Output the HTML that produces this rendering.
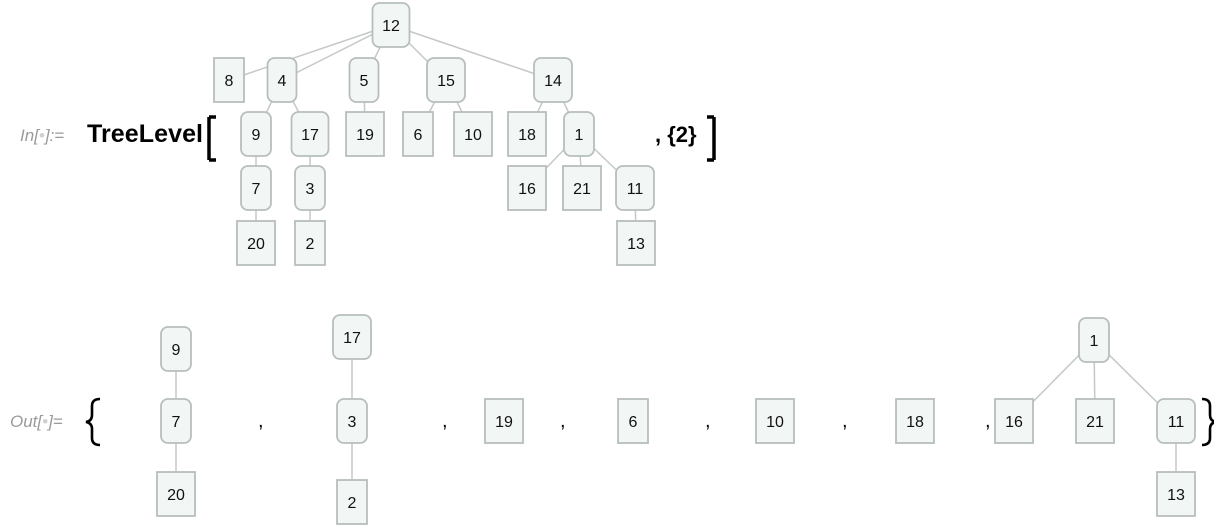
<!DOCTYPE html>
<html><head><meta charset="utf-8"><style>
body{margin:0;background:#fff;width:1214px;height:532px;overflow:hidden}
svg{display:block}
</style></head><body>
<svg id="s" width="1214" height="532" xmlns="http://www.w3.org/2000/svg" font-family="'Liberation Sans', 'DejaVu Sans', sans-serif">
<text x="20" y="141" font-size="17" font-style="italic" fill="#9a9a9a">In[<tspan fill="#d0d0d0">•</tspan>]:=</text>
<text x="87" y="142" font-size="25" font-weight="bold" fill="#000" textLength="116">TreeLevel</text>
<path d="M209 117 V160 M209 117 H216 M209 160 H216" stroke="#000" stroke-width="3.5" fill="none"/>
<text x="655" y="142" font-size="22" font-weight="bold" fill="#000">, {2}</text>
<path d="M714 117 V160 M714 117 H707 M714 160 H707" stroke="#000" stroke-width="3.5" fill="none"/>
<text x="10" y="427" font-size="17" font-style="italic" fill="#9a9a9a">Out[<tspan fill="#d0d0d0">•</tspan>]=</text>
<path d="M100 399 Q92 399 92 406 V415 Q92 421 86 422 Q92 423 92 429 V438 Q92 445 100 445" stroke="#000" stroke-width="2.6" fill="none"/>
<path d="M1202 399 Q1210 399 1210 406 V415 Q1210 421 1216 422 Q1210 423 1210 429 V438 Q1210 445 1202 445" stroke="#000" stroke-width="2.6" fill="none"/>
<g id="edges"></g><g id="nodes"></g><g id="commas"></g>
</svg>
<script>
const nodeLabels=["12","8","4","5","15","14","9","17","19","6","10","18","1","7","3","16","21","11","20","2","13",
"9","7","20","17","3","2","19","6","10","18","1","16","21","11","13"];
const nodeX=[391,229,282,364,446,553,256,310,365,418,473,527,579,256,310,527,582,635,256,310,636,
176,176,176,352,352,352,504,633,775,915,1094,1014,1095,1176,1176];
const nodeY=[25,80,80,80,80,80,134,134,134,134,134,134,134,188,188,188,188,188,243,243,243,
349,421,494,337,421,502,421,421,421,421,340,421,421,421,494];
const nodeW=[37,30,29,29,38,38,30,37,38,30,38,38,30,30,30,38,38,38,38,30,38,
30,30,38,38,30,30,38,30,38,38,30,38,38,38,38];
const nodeRounded=[1,0,1,1,1,1,1,1,0,0,0,0,1,1,1,0,0,1,0,0,0,
1,1,0,1,1,0,0,0,0,0,1,0,0,1,0];
const edges=[[0,1],[0,2],[0,3],[0,4],[0,5],[2,6],[2,7],[3,8],[4,9],[4,10],[5,11],[5,12],[6,13],[7,14],[12,15],[12,16],[12,17],[13,18],[14,19],[17,20],
[21,22],[22,23],[24,25],[25,26],[31,32],[31,33],[31,34],[34,35]];
const commaX=[258,442,560,705,842,985];
const NS="http://www.w3.org/2000/svg";
const eg=document.getElementById('edges'),ng=document.getElementById('nodes'),cg=document.getElementById('commas');
edges.forEach(([a,b])=>{const l=document.createElementNS(NS,'line');
l.setAttribute('x1',nodeX[a]);l.setAttribute('y1',nodeY[a]);l.setAttribute('x2',nodeX[b]);l.setAttribute('y2',nodeY[b]);
l.setAttribute('stroke','#c4c8c6');l.setAttribute('stroke-width','1.5');


eg.appendChild(l);});
nodeLabels.forEach((t,i)=>{const g=document.createElementNS(NS,'g');


const r=document.createElementNS(NS,'rect');const w=nodeW[i],h=44;
r.setAttribute('x',nodeX[i]-w/2);r.setAttribute('y',nodeY[i]-h/2);r.setAttribute('width',w);r.setAttribute('height',h);
r.setAttribute('rx',nodeRounded[i]?7:0);r.setAttribute('fill','#f2f7f5');r.setAttribute('stroke','#b7bfbb');r.setAttribute('stroke-width','1.8');
const tx=document.createElementNS(NS,'text');tx.setAttribute('x',nodeX[i]);tx.setAttribute('y',nodeY[i]+6);
tx.setAttribute('text-anchor','middle');tx.setAttribute('font-size','16');tx.setAttribute('fill','#111');tx.textContent=t;
g.appendChild(r);g.appendChild(tx);ng.appendChild(g);});
commaX.forEach(x=>{const c=document.createElementNS(NS,'text');c.setAttribute('x',x);c.setAttribute('y',427);
c.setAttribute('font-size','20');c.textContent=',';


cg.appendChild(c);});
</script>
</body></html>
